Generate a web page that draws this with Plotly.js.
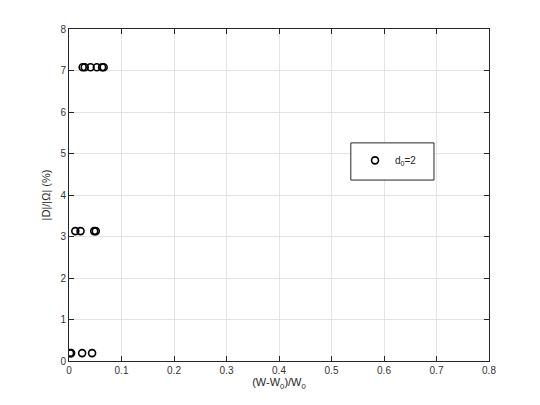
<!DOCTYPE html>
<html>
<head>
<meta charset="utf-8">
<script src="https://cdn.plot.ly/plotly-3.0.1.min.js"></script>
<style>html,body{margin:0;padding:0;background:#fff;}</style>
</head>
<body>
<div id="chart" style="width:540px;height:405px;"></div>
<script>
const seriesName = "d<sub>0</sub>=2";
const xValues = [0.026, 0.030, 0.041, 0.053, 0.063, 0.066,
                 0.012, 0.022, 0.048, 0.051,
                 0.002, 0.004, 0.025, 0.044];
const yValues = [7.08, 7.08, 7.08, 7.08, 7.08, 7.08,
                 3.13, 3.13, 3.13, 3.13,
                 0.19, 0.19, 0.19, 0.19];
const xTicks = [0, 0.1, 0.2, 0.3, 0.4, 0.5, 0.6, 0.7, 0.8];
const xTickText = ["0", "0.1", "0.2", "0.3", "0.4", "0.5", "0.6", "0.7", "0.8"];
const yTicks = [0, 1, 2, 3, 4, 5, 6, 7, 8];
const yTickText = ["0", "1", "2", "3", "4", "5", "6", "7", "8"];

const trace = {
  x: xValues, y: yValues, type: "scatter", mode: "markers", name: seriesName,
  marker: {symbol: "circle-open", size: 7, color: "#000", line: {width: 1.6, color: "#000"}}
};
const axisCommon = {
  showline: true, linecolor: "#262626", linewidth: 1, mirror: "ticks",
  ticks: "inside", ticklen: 5, tickcolor: "#262626",
  showgrid: true, gridcolor: "#e3e3e3", gridwidth: 1, zeroline: false,
  tickfont: {family: "Liberation Sans, Arial, sans-serif", size: 10, color: "#333"}
};
const layout = {
  width: 540, height: 405,
  margin: {l: 69, r: 51, t: 29, b: 44},
  paper_bgcolor: "#fff", plot_bgcolor: "#fff",
  showlegend: true,
  xaxis: Object.assign({}, axisCommon, {
    range: [0, 0.8], tickvals: xTicks, ticktext: xTickText,
    title: {text: "(W-W<sub>0</sub>)/W<sub>0</sub>", standoff: 3,
            font: {family: "Liberation Sans, Arial, sans-serif", size: 11, color: "#262626"}}
  }),
  yaxis: Object.assign({}, axisCommon, {
    range: [0, 8], tickvals: yTicks, ticktext: yTickText,
    title: {text: "|D|/|Ω| (%)", standoff: 7,
            font: {family: "Liberation Sans, Arial, sans-serif", size: 11, color: "#262626"}}
  }),
  shapes: [{
    type: "rect", xref: "paper", yref: "paper", layer: "above",
    x0: 0.671, x1: 0.869, y0: 0.545, y1: 0.657,
    line: {color: "#262626", width: 1}, fillcolor: "#fff"
  }],
  legend: {
    x: 0.681, y: 0.648, xanchor: "left", yanchor: "top",
    bgcolor: "rgba(0,0,0,0)", borderwidth: 0,
    font: {family: "Liberation Sans, Arial, sans-serif", size: 10, color: "#262626"}
  }
};
Plotly.newPlot("chart", [trace], layout, {displayModeBar: false, staticPlot: true});
</script>
</body>
</html>
